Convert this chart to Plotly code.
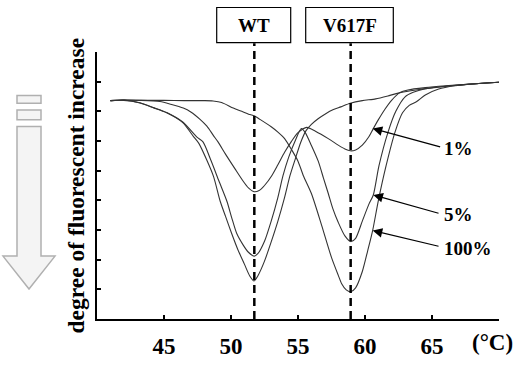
import plotly.graph_objects as go

# ---------------- data ----------------
t_wt = [41, 42, 43.2, 44.2, 45.2, 46.4, 47.2, 47.6, 48.2, 48.7, 49.2, 49.6, 50.05, 50.5, 51.0, 51.4, 51.72,
        52.0, 52.5, 53.0, 53.5, 54.0, 54.4, 54.8, 55.2, 55.6, 56.0, 56.5, 57.1, 57.6, 58.2, 58.9, 59.8,
        60.8, 61.8, 62.7, 63.8, 65.0, 66.5, 68.0, 70.0]
y_wt = [7.36, 7.38, 7.28, 7.12, 6.95, 6.62, 6.15, 5.92, 5.35, 4.8, 3.96, 3.45, 2.88, 2.35, 1.85, 1.45, 1.28,
        1.45, 1.95, 2.6, 3.3, 4.1, 4.83, 5.4, 5.95, 6.35, 6.56, 6.75, 6.93, 7.05, 7.15, 7.27, 7.36,
        7.42, 7.53, 7.64, 7.72, 7.79, 7.86, 7.92, 7.98]

t_1 = [41, 42, 43.2, 44.7, 45.5, 46.44, 47.0, 47.69, 48.2, 48.68, 49.03, 49.6, 50.3, 50.9, 51.3, 51.72,
       52.1, 52.5, 53.04, 53.5, 54.0, 54.5, 55.0, 55.65, 56.3, 57.26, 58.0, 58.5, 58.9, 59.3, 59.8, 60.3,
       60.6, 61.0, 61.5, 62.0, 62.6, 63.2, 64.5, 66.0, 68.0, 70.0]
y_1 = [7.36, 7.38, 7.37, 7.33, 7.24, 7.11, 6.98, 6.73, 6.5, 6.19, 5.97, 5.55, 5.06, 4.65, 4.42, 4.29,
       4.33, 4.5, 4.83, 5.2, 5.62, 5.98, 6.28, 6.46, 6.33, 6.08, 5.86, 5.73, 5.67, 5.7, 5.86, 6.15,
       6.4, 6.72, 7.08, 7.38, 7.63, 7.72, 7.8, 7.86, 7.92, 7.98]

t_5 = [41, 42, 43.2, 44.2, 45.2, 46.4, 47.46, 47.91, 48.5, 49.1, 49.7, 50.05, 50.43, 50.9, 51.3, 51.72,
       52.0, 52.5, 53.0, 53.5, 53.88, 54.3, 54.8, 55.25, 55.52, 56.0, 56.51, 56.9, 57.26, 57.6, 58.0, 58.5,
       58.93, 59.3, 59.8, 60.3, 60.62, 61.04, 61.72, 62.3, 62.99, 63.6, 64.5, 65.6, 67.0, 68.5, 70.0]
y_5 = [7.36, 7.37, 7.29, 7.13, 6.96, 6.64, 6.13, 5.97, 5.35, 4.65, 3.96, 3.42, 2.88, 2.5, 2.25, 2.12,
       2.2, 2.62, 3.3, 4.1, 4.83, 5.45, 6.02, 6.42, 6.3, 5.85, 5.32, 4.75, 4.23, 3.72, 3.26, 2.8,
       2.61, 2.72, 3.3, 3.88, 4.18, 5.16, 6.3, 7.0, 7.49, 7.64, 7.76, 7.83, 7.89, 7.94, 7.98]

t_100 = [41, 42, 43.5, 45.0, 46.5, 48.0, 48.66, 49.3, 50.17, 50.8, 51.42, 51.72, 52.16, 53.0, 53.5, 54.0,
         54.53, 55.0, 55.4, 56.0, 56.77, 57.51, 58.0, 58.26, 58.6, 58.93, 59.3, 59.8, 60.2, 60.57, 61.0,
         61.57, 62.24, 62.8, 63.3, 63.86, 64.5, 65.5, 66.72, 68.0, 70.0]
y_100 = [7.36, 7.38, 7.37, 7.37, 7.36, 7.36, 7.35, 7.3, 7.11, 7.0, 6.89, 6.85, 6.73, 6.48, 6.3, 6.08,
         5.7, 5.32, 4.83, 4.23, 3.15, 2.06, 1.48, 1.19, 0.98, 0.92, 1.05, 1.6, 2.3, 2.98, 4.0,
         5.16, 6.3, 6.95, 7.2, 7.33, 7.55, 7.75, 7.86, 7.92, 7.98]

series = [("WT", t_wt, y_wt), ("1%", t_1, y_1), ("5%", t_5, y_5), ("100%", t_100, y_100)]

x_ticks = [45, 50, 55, 60, 65]
x_ticktext = ["45", "50", "55", "60", "65"]
y_ticks = [0, 1, 2, 3, 4, 5, 6, 7, 8, 9]

peak_labels = ["WT", "V617F"]
peak_temps = [51.74, 58.93]

pct_labels = ["1%", "5%", "100%"]
arrow_heads = [(60.57, 6.42), (60.62, 4.18), (60.57, 2.98)]
arrow_tails = [(65.72, 5.79), (65.6, 3.55), (65.6, 2.44)]

# ---------------- layout geometry (page pixels) ----------------
W, H = 520, 371
PL, PR, PT, PB = 97, 499, 52, 328      # plot area
ML, MT = PL, PT
MR, MB = W - PR, H - PB
PW, PH = PR - PL, PB - PT


def px(xp):
    return (xp - PL) / PW


def py(yp):
    return (PB - yp) / PH


FONT = "Liberation Serif"

fig = go.Figure()
for name, t, v in series:
    fig.add_trace(go.Scatter(x=t, y=v, mode="lines", name=name,
                             line=dict(color="#333333", width=1.1, shape="spline", smoothing=0.7),
                             showlegend=False, hoverinfo="skip"))

shapes = []
annotations = []

# dashed peak lines and boxes
box_px = [(216.7, 290.7), (305.7, 393.3)]
for lab, tmp, (bx0, bx1) in zip(peak_labels, peak_temps, box_px):
    shapes.append(dict(type="line", xref="x", yref="paper", x0=tmp, x1=tmp, y0=0, y1=py(43),
                       line=dict(color="black", width=2.5, dash="8px,5px")))
    shapes.append(dict(type="rect", xref="paper", yref="paper", x0=px(bx0), x1=px(bx1),
                       y0=py(42.3), y1=py(6), line=dict(color="black", width=1.2),
                       fillcolor="white"))
    annotations.append(dict(text=lab, xref="paper", yref="paper", x=px((bx0 + bx1) / 2), y=py(24.5),
                            showarrow=False, xanchor="center", yanchor="middle",
                            font=dict(family=FONT, size=19, color="black", weight="bold")))

# percentage labels and arrows
label_y_px = [151.7, 220, 255]
for lab, ly, head, tail in zip(pct_labels, label_y_px, arrow_heads, arrow_tails):
    annotations.append(dict(text=lab, xref="paper", yref="paper", x=px(442), y=py(ly),
                            showarrow=False, xanchor="left", yanchor="middle",
                            font=dict(family=FONT, size=19, color="black", weight="bold")))
    annotations.append(dict(text="", x=head[0], y=head[1], xref="x", yref="y",
                            ax=tail[0], ay=tail[1], axref="x", ayref="y",
                            showarrow=True, arrowhead=2, arrowsize=1.6, arrowwidth=1.2,
                            arrowcolor="black"))

# y title and unit
annotations.append(dict(text="degree of fluorescent increase", xref="paper", yref="paper",
                        x=px(75), y=py(190), textangle=-90, showarrow=False,
                        xanchor="center", yanchor="middle",
                        font=dict(family=FONT, size=23.5, color="black", weight="bold")))
annotations.append(dict(text="(°C)", xref="paper", yref="paper", x=px(492), y=py(352.7),
                        showarrow=False, xanchor="center", yanchor="middle",
                        font=dict(family=FONT, size=23, color="black", weight="bold")))

# big gray downward arrow on the left


def path(points):
    return "M " + " L ".join(f"{px(a):.5f},{py(b):.5f}" for a, b in points) + " Z"


arrow_pts = [(17, 129), (41, 129), (41, 263), (55, 263), (29, 297), (3, 263), (17, 263)]
shapes.append(dict(type="path", xref="paper", yref="paper", path=path(arrow_pts),
                   line=dict(color="#b0b0b0", width=1.5), fillcolor="#f4f4f4"))
for y0, y1 in [(97, 105), (112, 122)]:
    shapes.append(dict(type="rect", xref="paper", yref="paper", x0=px(17), x1=px(41),
                       y0=py(y1), y1=py(y0), line=dict(color="#b0b0b0", width=1.5),
                       fillcolor="#f4f4f4"))

fig.update_layout(
    width=W, height=H,
    margin=dict(l=ML, r=MR, t=MT, b=MB, pad=0),
    paper_bgcolor="white", plot_bgcolor="white",
    hovermode=False,
    shapes=shapes, annotations=annotations,
    xaxis=dict(range=[40, 70], tickvals=x_ticks, ticktext=x_ticktext, ticks="inside", ticklen=4,
               tickwidth=1.5, tickcolor="black", showline=True, linecolor="black", linewidth=1.5,
               showgrid=False, zeroline=False, ticklabelstandoff=6,
               tickfont=dict(family=FONT, size=23, color="black", weight="bold")),
    yaxis=dict(range=[0, 9], tickvals=y_ticks, ticks="inside", ticklen=4, tickwidth=1.5,
               tickcolor="black", showline=True, linecolor="black", linewidth=1.5,
               showgrid=False, zeroline=False, showticklabels=False),
)

# remove the default 8px page margin so the figure fills the window exactly
fig.write_html("out.html", config={"displayModeBar": False},
               post_script="document.body.style.margin='0px';document.body.style.overflow='hidden';")
